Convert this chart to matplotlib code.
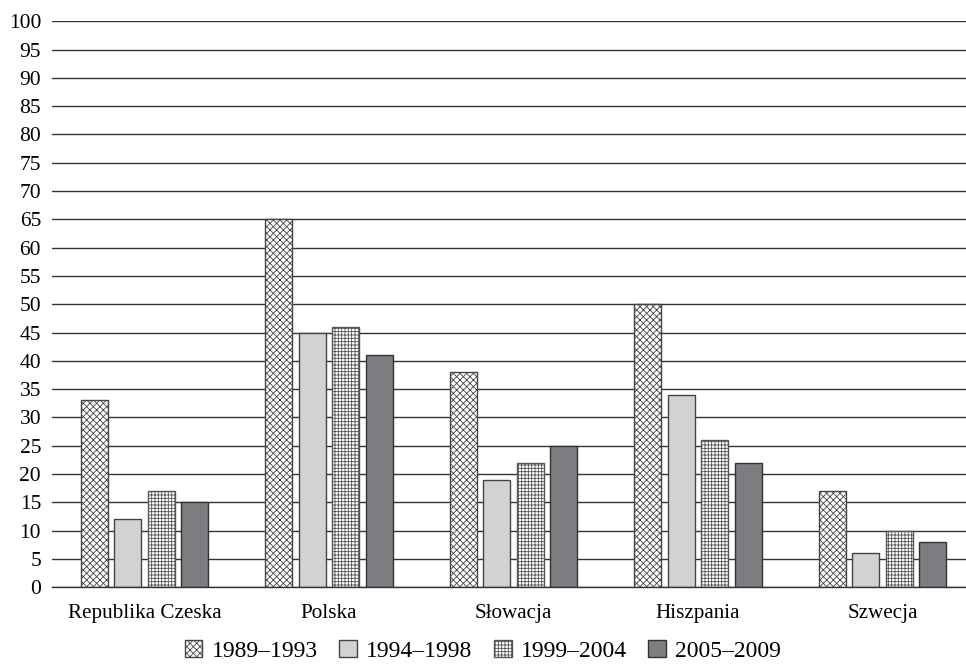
import matplotlib
matplotlib.use("Agg")
import matplotlib.pyplot as plt
import numpy as np

categories = ["Republika Czeska", "Polska", "Słowacja", "Hiszpania", "Szwecja"]
series_labels = ["1989–1993", "1994–1998", "1999–2004", "2005–2009"]
v_1989_1993 = [33, 65, 38, 50, 17]
v_1994_1998 = [12, 45, 19, 34, 6]
v_1999_2004 = [17, 46, 22, 26, 10]
v_2005_2009 = [15, 41, 25, 22, 8]
yticks = list(range(0, 101, 5))

plt.rcParams['font.family'] = ['Liberation Serif', 'DejaVu Serif']
plt.rcParams['hatch.linewidth'] = 0.6

fig = plt.figure(figsize=(9.66, 6.65), dpi=100)
ax = fig.add_axes([0.054, 0.117, 0.946, 0.851])

styles = [
    dict(facecolor="white", hatch="xxxxx", edgecolor="#444444"),
    dict(facecolor="#d2d2d2", hatch=None, edgecolor="#444444"),
    dict(facecolor="white", hatch="+++++", edgecolor="#555555"),
    dict(facecolor="#7d7e82", hatch=None, edgecolor="#333333"),
]
data = [v_1989_1993, v_1994_1998, v_1999_2004, v_2005_2009]
x = np.arange(len(categories))
width = 0.146
step = 0.1816
handles = []
for i, (vals, st, lab) in enumerate(zip(data, styles, series_labels)):
    b = ax.bar(x + (i - 1.5) * step, vals, width, label=lab,
               facecolor=st["facecolor"], edgecolor=st["edgecolor"],
               hatch=st["hatch"], linewidth=1.0, zorder=3)
    handles.append(b)

ax.set_ylim(0, 100)
ax.set_xlim(-0.501, 4.4526)
ax.set_yticks(yticks)
ax.set_yticklabels([str(t) for t in yticks], fontsize=15.5)
ax.yaxis.grid(True, color="#333333", linewidth=1.0, zorder=0)
ax.set_axisbelow(True)
ax.tick_params(axis='y', length=0, pad=8)
ax.tick_params(axis='x', length=0, pad=12)
ax.set_xticks(x)
ax.set_xticklabels(categories, fontsize=15.2)
for s in ["left", "right", "top"]:
    ax.spines[s].set_visible(False)
ax.spines["bottom"].set_color("#333333")
ax.spines["bottom"].set_linewidth(1.0)
ax.spines["bottom"].set_zorder(4)

fig.legend(handles=handles, labels=series_labels, loc="center",
           bbox_to_anchor=(0.5, 0.021), ncol=4, frameon=False, fontsize=17,
           handlelength=0.75, handleheight=0.75, handletextpad=0.4,
           columnspacing=0.9)

fig.savefig("out.png", dpi=100)
